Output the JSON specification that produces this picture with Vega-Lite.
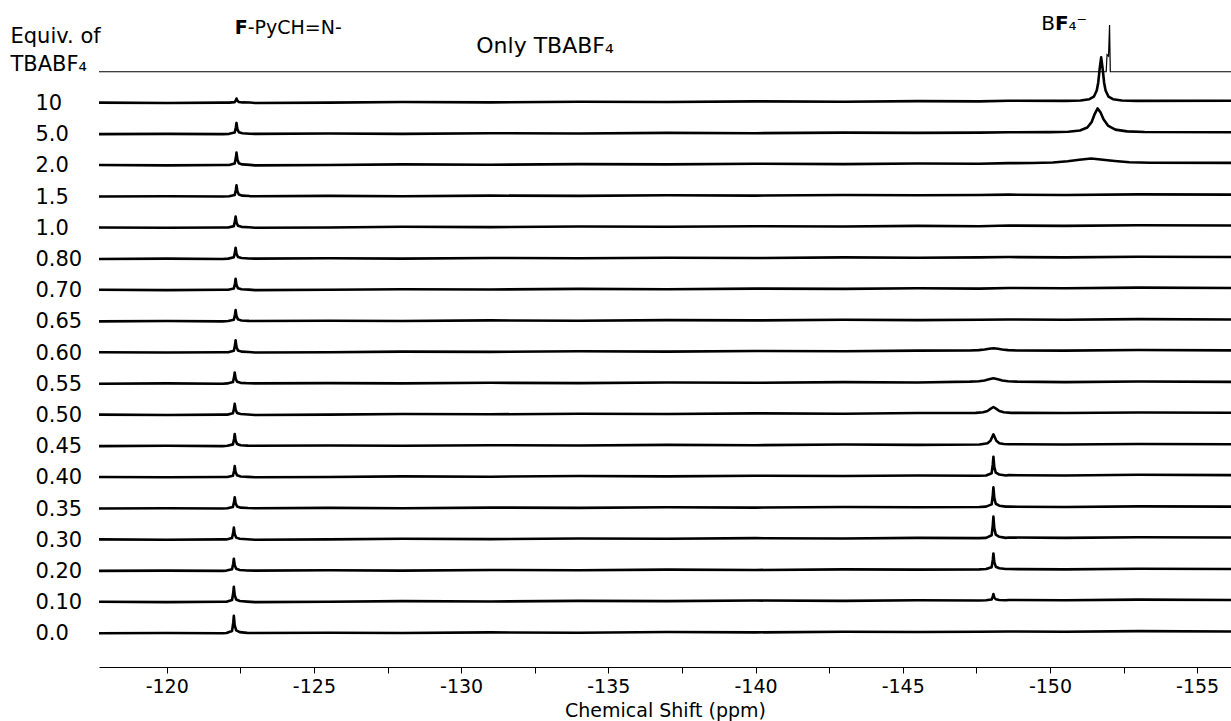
{
  "$schema": "https://vega.github.io/schema/vega-lite/v6.json",
  "autosize": {"type": "none"},
  "padding": {"left": 99, "top": 0, "right": 0, "bottom": 54},
  "width": 1132,
  "height": 667,
  "background": "white",
  "config": {"view": {"stroke": null}, "font": "DejaVu Sans"},
  "datasets": {
    "labels": [
      {"label":"0.0","row":0},{"label":"0.10","row":1},{"label":"0.20","row":2},{"label":"0.30","row":3},{"label":"0.35","row":4},{"label":"0.40","row":5},
      {"label":"0.45","row":6},{"label":"0.50","row":7},{"label":"0.55","row":8},{"label":"0.60","row":9},{"label":"0.65","row":10},{"label":"0.70","row":11},
      {"label":"0.80","row":12},{"label":"1.0","row":13},{"label":"1.5","row":14},{"label":"2.0","row":15},{"label":"5.0","row":16},{"label":"10","row":17}
    ],
    "spectra": [
      {"s":"0.0","x":-117.7,"y":0},{"s":"0.0","x":-120,"y":0.01},{"s":"0.0","x":-121.9,"y":0},
      {"s":"0.0","x":-122.03,"y":0.01},{"s":"0.0","x":-122.22,"y":0.076},{"s":"0.0","x":-122.26,"y":0.34},{"s":"0.0","x":-122.28,"y":0.56},{"s":"0.0","x":-122.31,"y":0.258},{"s":"0.0","x":-122.36,"y":0.093},{"s":"0.0","x":-122.48,"y":0.038},{"s":"0.0","x":-122.73,"y":0.015},
      {"s":"0.0","x":-123,"y":0.01},{"s":"0.0","x":-125.5,"y":0.02},{"s":"0.0","x":-128,"y":0.01},{"s":"0.0","x":-131,"y":0.03},{"s":"0.0","x":-134,"y":0.02},{"s":"0.0","x":-137,"y":0.04},{"s":"0.0","x":-140,"y":0.03},{"s":"0.0","x":-143,"y":0.05},{"s":"0.0","x":-145.5,"y":0.04},{"s":"0.0","x":-147.6,"y":0.05},{"s":"0.0","x":-148.6,"y":0.06},{"s":"0.0","x":-150.5,"y":0.05},{"s":"0.0","x":-153,"y":0.07},{"s":"0.0","x":-156.15,"y":0.06},

      {"s":"0.10","x":-117.7,"y":1.01},{"s":"0.10","x":-120,"y":1},{"s":"0.10","x":-121.9,"y":1.01},
      {"s":"0.10","x":-122.03,"y":1.01},{"s":"0.10","x":-122.22,"y":1.068},{"s":"0.10","x":-122.26,"y":1.298},{"s":"0.10","x":-122.28,"y":1.49},{"s":"0.10","x":-122.31,"y":1.226},{"s":"0.10","x":-122.36,"y":1.082},{"s":"0.10","x":-122.48,"y":1.034},{"s":"0.10","x":-122.73,"y":1.015},
      {"s":"0.10","x":-123,"y":1},{"s":"0.10","x":-125.5,"y":1.01},{"s":"0.10","x":-128,"y":1.03},{"s":"0.10","x":-131,"y":1.02},{"s":"0.10","x":-134,"y":1.04},{"s":"0.10","x":-137,"y":1.03},{"s":"0.10","x":-140,"y":1.05},{"s":"0.10","x":-143,"y":1.04},{"s":"0.10","x":-145.5,"y":1.06},{"s":"0.10","x":-147.6,"y":1.05},
      {"s":"0.10","x":-147.83,"y":1.06},{"s":"0.10","x":-148.02,"y":1.084},{"s":"0.10","x":-148.06,"y":1.18},{"s":"0.10","x":-148.08,"y":1.26},{"s":"0.10","x":-148.11,"y":1.15},{"s":"0.10","x":-148.16,"y":1.09},{"s":"0.10","x":-148.28,"y":1.07},{"s":"0.10","x":-148.5,"y":1.06},
      {"s":"0.10","x":-148.6,"y":1.07},{"s":"0.10","x":-150.5,"y":1.06},{"s":"0.10","x":-153,"y":1.08},{"s":"0.10","x":-156.15,"y":1.07},

      {"s":"0.20","x":-117.7,"y":2},{"s":"0.20","x":-120,"y":2.01},{"s":"0.20","x":-121.9,"y":2},
      {"s":"0.20","x":-122.03,"y":2.01},{"s":"0.20","x":-122.22,"y":2.056},{"s":"0.20","x":-122.26,"y":2.238},{"s":"0.20","x":-122.28,"y":2.39},{"s":"0.20","x":-122.31,"y":2.181},{"s":"0.20","x":-122.36,"y":2.067},{"s":"0.20","x":-122.48,"y":2.029},{"s":"0.20","x":-122.73,"y":2.015},
      {"s":"0.20","x":-123,"y":2.01},{"s":"0.20","x":-125.5,"y":2.02},{"s":"0.20","x":-128,"y":2.01},{"s":"0.20","x":-131,"y":2.03},{"s":"0.20","x":-134,"y":2.02},{"s":"0.20","x":-137,"y":2.04},{"s":"0.20","x":-140,"y":2.03},{"s":"0.20","x":-143,"y":2.05},{"s":"0.20","x":-145.5,"y":2.04},{"s":"0.20","x":-147.6,"y":2.05},
      {"s":"0.20","x":-147.83,"y":2.06},{"s":"0.20","x":-148.02,"y":2.12},{"s":"0.20","x":-148.06,"y":2.36},{"s":"0.20","x":-148.08,"y":2.56},{"s":"0.20","x":-148.11,"y":2.285},{"s":"0.20","x":-148.16,"y":2.135},{"s":"0.20","x":-148.28,"y":2.085},{"s":"0.20","x":-148.5,"y":2.06},
      {"s":"0.20","x":-148.6,"y":2.06},{"s":"0.20","x":-150.5,"y":2.05},{"s":"0.20","x":-153,"y":2.07},{"s":"0.20","x":-156.15,"y":2.06},

      {"s":"0.30","x":-117.7,"y":3.01},{"s":"0.30","x":-120,"y":3},{"s":"0.30","x":-121.9,"y":3.01},
      {"s":"0.30","x":-122.03,"y":3.01},{"s":"0.30","x":-122.22,"y":3.056},{"s":"0.30","x":-122.26,"y":3.238},{"s":"0.30","x":-122.28,"y":3.39},{"s":"0.30","x":-122.31,"y":3.181},{"s":"0.30","x":-122.36,"y":3.067},{"s":"0.30","x":-122.48,"y":3.029},{"s":"0.30","x":-122.73,"y":3.015},
      {"s":"0.30","x":-123,"y":3},{"s":"0.30","x":-125.5,"y":3.01},{"s":"0.30","x":-128,"y":3.03},{"s":"0.30","x":-131,"y":3.02},{"s":"0.30","x":-134,"y":3.04},{"s":"0.30","x":-137,"y":3.03},{"s":"0.30","x":-140,"y":3.05},{"s":"0.30","x":-143,"y":3.04},{"s":"0.30","x":-145.5,"y":3.06},{"s":"0.30","x":-147.6,"y":3.05},
      {"s":"0.30","x":-147.83,"y":3.06},{"s":"0.30","x":-148.02,"y":3.142},{"s":"0.30","x":-148.06,"y":3.468},{"s":"0.30","x":-148.08,"y":3.74},{"s":"0.30","x":-148.11,"y":3.366},{"s":"0.30","x":-148.16,"y":3.162},{"s":"0.30","x":-148.28,"y":3.094},{"s":"0.30","x":-148.5,"y":3.06},
      {"s":"0.30","x":-148.6,"y":3.07},{"s":"0.30","x":-150.5,"y":3.06},{"s":"0.30","x":-153,"y":3.08},{"s":"0.30","x":-156.15,"y":3.07},

      {"s":"0.35","x":-117.7,"y":4},{"s":"0.35","x":-120,"y":4.01},{"s":"0.35","x":-121.9,"y":4},
      {"s":"0.35","x":-122.06,"y":4.01},{"s":"0.35","x":-122.25,"y":4.052},{"s":"0.35","x":-122.29,"y":4.22},{"s":"0.35","x":-122.31,"y":4.36},{"s":"0.35","x":-122.34,"y":4.168},{"s":"0.35","x":-122.39,"y":4.063},{"s":"0.35","x":-122.51,"y":4.028},{"s":"0.35","x":-122.76,"y":4.015},
      {"s":"0.35","x":-123,"y":4.01},{"s":"0.35","x":-125.5,"y":4.02},{"s":"0.35","x":-128,"y":4.01},{"s":"0.35","x":-131,"y":4.03},{"s":"0.35","x":-134,"y":4.02},{"s":"0.35","x":-137,"y":4.04},{"s":"0.35","x":-140,"y":4.03},{"s":"0.35","x":-143,"y":4.05},{"s":"0.35","x":-145.5,"y":4.04},{"s":"0.35","x":-147.6,"y":4.05},
      {"s":"0.35","x":-147.83,"y":4.06},{"s":"0.35","x":-148.02,"y":4.134},{"s":"0.35","x":-148.06,"y":4.432},{"s":"0.35","x":-148.08,"y":4.68},{"s":"0.35","x":-148.11,"y":4.339},{"s":"0.35","x":-148.16,"y":4.153},{"s":"0.35","x":-148.28,"y":4.091},{"s":"0.35","x":-148.5,"y":4.06},
      {"s":"0.35","x":-148.6,"y":4.06},{"s":"0.35","x":-150.5,"y":4.05},{"s":"0.35","x":-153,"y":4.07},{"s":"0.35","x":-156.15,"y":4.06},

      {"s":"0.40","x":-117.7,"y":5.01},{"s":"0.40","x":-120,"y":5},{"s":"0.40","x":-121.9,"y":5.01},
      {"s":"0.40","x":-122.06,"y":5.01},{"s":"0.40","x":-122.25,"y":5.052},{"s":"0.40","x":-122.29,"y":5.22},{"s":"0.40","x":-122.31,"y":5.36},{"s":"0.40","x":-122.34,"y":5.168},{"s":"0.40","x":-122.39,"y":5.063},{"s":"0.40","x":-122.51,"y":5.028},{"s":"0.40","x":-122.76,"y":5.015},
      {"s":"0.40","x":-123,"y":5},{"s":"0.40","x":-125.5,"y":5.01},{"s":"0.40","x":-128,"y":5.03},{"s":"0.40","x":-131,"y":5.02},{"s":"0.40","x":-134,"y":5.04},{"s":"0.40","x":-137,"y":5.03},{"s":"0.40","x":-140,"y":5.05},{"s":"0.40","x":-143,"y":5.04},{"s":"0.40","x":-145.5,"y":5.06},{"s":"0.40","x":-147.6,"y":5.05},
      {"s":"0.40","x":-147.83,"y":5.06},{"s":"0.40","x":-148.02,"y":5.132},{"s":"0.40","x":-148.06,"y":5.42},{"s":"0.40","x":-148.08,"y":5.66},{"s":"0.40","x":-148.11,"y":5.33},{"s":"0.40","x":-148.16,"y":5.15},{"s":"0.40","x":-148.28,"y":5.09},{"s":"0.40","x":-148.5,"y":5.06},
      {"s":"0.40","x":-148.6,"y":5.07},{"s":"0.40","x":-150.5,"y":5.06},{"s":"0.40","x":-153,"y":5.08},{"s":"0.40","x":-156.15,"y":5.07},

      {"s":"0.45","x":-117.7,"y":6},{"s":"0.45","x":-120,"y":6.01},{"s":"0.45","x":-121.9,"y":6},
      {"s":"0.45","x":-122.06,"y":6.01},{"s":"0.45","x":-122.25,"y":6.056},{"s":"0.45","x":-122.29,"y":6.238},{"s":"0.45","x":-122.31,"y":6.39},{"s":"0.45","x":-122.34,"y":6.181},{"s":"0.45","x":-122.39,"y":6.067},{"s":"0.45","x":-122.51,"y":6.029},{"s":"0.45","x":-122.76,"y":6.015},
      {"s":"0.45","x":-123,"y":6.01},{"s":"0.45","x":-125.5,"y":6.02},{"s":"0.45","x":-128,"y":6.01},{"s":"0.45","x":-131,"y":6.03},{"s":"0.45","x":-134,"y":6.02},{"s":"0.45","x":-137,"y":6.04},{"s":"0.45","x":-140,"y":6.03},{"s":"0.45","x":-143,"y":6.05},{"s":"0.45","x":-145.5,"y":6.04},{"s":"0.45","x":-147.6,"y":6.05},
      {"s":"0.45","x":-147.73,"y":6.069},{"s":"0.45","x":-147.88,"y":6.094},{"s":"0.45","x":-147.98,"y":6.17},{"s":"0.45","x":-148.03,"y":6.275},{"s":"0.45","x":-148.08,"y":6.375},{"s":"0.45","x":-148.13,"y":6.275},{"s":"0.45","x":-148.18,"y":6.17},{"s":"0.45","x":-148.28,"y":6.094},{"s":"0.45","x":-148.43,"y":6.069},
      {"s":"0.45","x":-148.6,"y":6.06},{"s":"0.45","x":-150.5,"y":6.05},{"s":"0.45","x":-153,"y":6.07},{"s":"0.45","x":-156.15,"y":6.06},

      {"s":"0.50","x":-117.7,"y":7.01},{"s":"0.50","x":-120,"y":7},{"s":"0.50","x":-121.9,"y":7.01},
      {"s":"0.50","x":-122.06,"y":7.01},{"s":"0.50","x":-122.25,"y":7.052},{"s":"0.50","x":-122.29,"y":7.22},{"s":"0.50","x":-122.31,"y":7.36},{"s":"0.50","x":-122.34,"y":7.168},{"s":"0.50","x":-122.39,"y":7.063},{"s":"0.50","x":-122.51,"y":7.028},{"s":"0.50","x":-122.76,"y":7.015},
      {"s":"0.50","x":-123,"y":7},{"s":"0.50","x":-125.5,"y":7.01},{"s":"0.50","x":-128,"y":7.03},{"s":"0.50","x":-131,"y":7.02},{"s":"0.50","x":-134,"y":7.04},{"s":"0.50","x":-137,"y":7.03},{"s":"0.50","x":-140,"y":7.05},{"s":"0.50","x":-143,"y":7.04},{"s":"0.50","x":-145.5,"y":7.06},
      {"s":"0.50","x":-147.48,"y":7.067},{"s":"0.50","x":-147.73,"y":7.086},{"s":"0.50","x":-147.88,"y":7.127},{"s":"0.50","x":-147.98,"y":7.193},{"s":"0.50","x":-148.08,"y":7.255},{"s":"0.50","x":-148.18,"y":7.193},{"s":"0.50","x":-148.28,"y":7.127},{"s":"0.50","x":-148.43,"y":7.086},{"s":"0.50","x":-148.68,"y":7.067},
      {"s":"0.50","x":-150.5,"y":7.06},{"s":"0.50","x":-153,"y":7.08},{"s":"0.50","x":-156.15,"y":7.07},

      {"s":"0.55","x":-117.7,"y":8},{"s":"0.55","x":-120,"y":8.01},{"s":"0.55","x":-121.9,"y":8},
      {"s":"0.55","x":-122.06,"y":8.01},{"s":"0.55","x":-122.25,"y":8.052},{"s":"0.55","x":-122.29,"y":8.22},{"s":"0.55","x":-122.31,"y":8.36},{"s":"0.55","x":-122.34,"y":8.168},{"s":"0.55","x":-122.39,"y":8.063},{"s":"0.55","x":-122.51,"y":8.028},{"s":"0.55","x":-122.76,"y":8.015},
      {"s":"0.55","x":-123,"y":8.01},{"s":"0.55","x":-125.5,"y":8.02},{"s":"0.55","x":-128,"y":8.01},{"s":"0.55","x":-131,"y":8.03},{"s":"0.55","x":-134,"y":8.02},{"s":"0.55","x":-137,"y":8.04},{"s":"0.55","x":-140,"y":8.03},{"s":"0.55","x":-143,"y":8.05},{"s":"0.55","x":-145.5,"y":8.04},
      {"s":"0.55","x":-147.28,"y":8.066},{"s":"0.55","x":-147.58,"y":8.079},{"s":"0.55","x":-147.78,"y":8.104},{"s":"0.55","x":-147.93,"y":8.143},{"s":"0.55","x":-148.08,"y":8.175},{"s":"0.55","x":-148.23,"y":8.143},{"s":"0.55","x":-148.38,"y":8.104},{"s":"0.55","x":-148.58,"y":8.079},{"s":"0.55","x":-148.88,"y":8.066},
      {"s":"0.55","x":-150.5,"y":8.05},{"s":"0.55","x":-153,"y":8.07},{"s":"0.55","x":-156.15,"y":8.06},

      {"s":"0.60","x":-117.7,"y":9.01},{"s":"0.60","x":-120,"y":9},{"s":"0.60","x":-121.9,"y":9.01},
      {"s":"0.60","x":-122.09,"y":9.01},{"s":"0.60","x":-122.28,"y":9.056},{"s":"0.60","x":-122.32,"y":9.238},{"s":"0.60","x":-122.34,"y":9.39},{"s":"0.60","x":-122.37,"y":9.181},{"s":"0.60","x":-122.42,"y":9.067},{"s":"0.60","x":-122.54,"y":9.029},{"s":"0.60","x":-122.79,"y":9.015},
      {"s":"0.60","x":-123,"y":9},{"s":"0.60","x":-125.5,"y":9.01},{"s":"0.60","x":-128,"y":9.03},{"s":"0.60","x":-131,"y":9.02},{"s":"0.60","x":-134,"y":9.04},{"s":"0.60","x":-137,"y":9.03},{"s":"0.60","x":-140,"y":9.05},{"s":"0.60","x":-143,"y":9.04},{"s":"0.60","x":-145.5,"y":9.06},
      {"s":"0.60","x":-147.28,"y":9.065},{"s":"0.60","x":-147.58,"y":9.077},{"s":"0.60","x":-147.78,"y":9.095},{"s":"0.60","x":-147.93,"y":9.119},{"s":"0.60","x":-148.08,"y":9.135},{"s":"0.60","x":-148.23,"y":9.119},{"s":"0.60","x":-148.38,"y":9.095},{"s":"0.60","x":-148.58,"y":9.077},{"s":"0.60","x":-148.88,"y":9.065},
      {"s":"0.60","x":-150.5,"y":9.06},{"s":"0.60","x":-153,"y":9.08},{"s":"0.60","x":-156.15,"y":9.07},

      {"s":"0.65","x":-117.7,"y":10},{"s":"0.65","x":-120,"y":10.01},{"s":"0.65","x":-121.9,"y":10},
      {"s":"0.65","x":-122.09,"y":10.01},{"s":"0.65","x":-122.28,"y":10.052},{"s":"0.65","x":-122.32,"y":10.22},{"s":"0.65","x":-122.34,"y":10.36},{"s":"0.65","x":-122.37,"y":10.168},{"s":"0.65","x":-122.42,"y":10.063},{"s":"0.65","x":-122.54,"y":10.028},{"s":"0.65","x":-122.79,"y":10.015},
      {"s":"0.65","x":-123,"y":10.01},{"s":"0.65","x":-125.5,"y":10.02},{"s":"0.65","x":-128,"y":10.01},{"s":"0.65","x":-131,"y":10.03},{"s":"0.65","x":-134,"y":10.02},{"s":"0.65","x":-137,"y":10.04},{"s":"0.65","x":-140,"y":10.03},{"s":"0.65","x":-143,"y":10.05},{"s":"0.65","x":-145.5,"y":10.04},{"s":"0.65","x":-147.6,"y":10.05},{"s":"0.65","x":-148.6,"y":10.06},{"s":"0.65","x":-150.5,"y":10.05},{"s":"0.65","x":-153,"y":10.07},{"s":"0.65","x":-156.15,"y":10.06},

      {"s":"0.70","x":-117.7,"y":11.01},{"s":"0.70","x":-120,"y":11},{"s":"0.70","x":-121.9,"y":11.01},
      {"s":"0.70","x":-122.09,"y":11.01},{"s":"0.70","x":-122.28,"y":11.052},{"s":"0.70","x":-122.32,"y":11.22},{"s":"0.70","x":-122.34,"y":11.36},{"s":"0.70","x":-122.37,"y":11.168},{"s":"0.70","x":-122.42,"y":11.063},{"s":"0.70","x":-122.54,"y":11.028},{"s":"0.70","x":-122.79,"y":11.015},
      {"s":"0.70","x":-123,"y":11},{"s":"0.70","x":-125.5,"y":11.01},{"s":"0.70","x":-128,"y":11.03},{"s":"0.70","x":-131,"y":11.02},{"s":"0.70","x":-134,"y":11.04},{"s":"0.70","x":-137,"y":11.03},{"s":"0.70","x":-140,"y":11.05},{"s":"0.70","x":-143,"y":11.04},{"s":"0.70","x":-145.5,"y":11.06},{"s":"0.70","x":-147.6,"y":11.05},{"s":"0.70","x":-148.6,"y":11.07},{"s":"0.70","x":-150.5,"y":11.06},{"s":"0.70","x":-153,"y":11.08},{"s":"0.70","x":-156.15,"y":11.07},

      {"s":"0.80","x":-117.7,"y":12},{"s":"0.80","x":-120,"y":12.01},{"s":"0.80","x":-121.9,"y":12},
      {"s":"0.80","x":-122.09,"y":12.01},{"s":"0.80","x":-122.28,"y":12.052},{"s":"0.80","x":-122.32,"y":12.22},{"s":"0.80","x":-122.34,"y":12.36},{"s":"0.80","x":-122.37,"y":12.168},{"s":"0.80","x":-122.42,"y":12.063},{"s":"0.80","x":-122.54,"y":12.028},{"s":"0.80","x":-122.79,"y":12.015},
      {"s":"0.80","x":-123,"y":12.01},{"s":"0.80","x":-125.5,"y":12.02},{"s":"0.80","x":-128,"y":12.01},{"s":"0.80","x":-131,"y":12.03},{"s":"0.80","x":-134,"y":12.02},{"s":"0.80","x":-137,"y":12.04},{"s":"0.80","x":-140,"y":12.03},{"s":"0.80","x":-143,"y":12.05},{"s":"0.80","x":-145.5,"y":12.04},{"s":"0.80","x":-147.6,"y":12.05},{"s":"0.80","x":-148.6,"y":12.06},{"s":"0.80","x":-150.5,"y":12.05},{"s":"0.80","x":-153,"y":12.07},{"s":"0.80","x":-156.15,"y":12.06},

      {"s":"1.0","x":-117.7,"y":13.01},{"s":"1.0","x":-120,"y":13},{"s":"1.0","x":-121.9,"y":13.01},
      {"s":"1.0","x":-122.09,"y":13.01},{"s":"1.0","x":-122.28,"y":13.052},{"s":"1.0","x":-122.32,"y":13.22},{"s":"1.0","x":-122.34,"y":13.36},{"s":"1.0","x":-122.37,"y":13.168},{"s":"1.0","x":-122.42,"y":13.063},{"s":"1.0","x":-122.54,"y":13.028},{"s":"1.0","x":-122.79,"y":13.015},
      {"s":"1.0","x":-123,"y":13},{"s":"1.0","x":-125.5,"y":13.01},{"s":"1.0","x":-128,"y":13.03},{"s":"1.0","x":-131,"y":13.02},{"s":"1.0","x":-134,"y":13.04},{"s":"1.0","x":-137,"y":13.03},{"s":"1.0","x":-140,"y":13.05},{"s":"1.0","x":-143,"y":13.04},{"s":"1.0","x":-145.5,"y":13.06},{"s":"1.0","x":-147.6,"y":13.05},{"s":"1.0","x":-148.6,"y":13.07},{"s":"1.0","x":-150.5,"y":13.06},{"s":"1.0","x":-153,"y":13.08},{"s":"1.0","x":-156.15,"y":13.07},

      {"s":"1.5","x":-117.7,"y":14},{"s":"1.5","x":-120,"y":14.01},{"s":"1.5","x":-121.9,"y":14},
      {"s":"1.5","x":-122.12,"y":14.01},{"s":"1.5","x":-122.31,"y":14.052},{"s":"1.5","x":-122.35,"y":14.22},{"s":"1.5","x":-122.37,"y":14.36},{"s":"1.5","x":-122.4,"y":14.168},{"s":"1.5","x":-122.45,"y":14.063},{"s":"1.5","x":-122.57,"y":14.028},{"s":"1.5","x":-122.82,"y":14.015},
      {"s":"1.5","x":-123,"y":14.01},{"s":"1.5","x":-125.5,"y":14.02},{"s":"1.5","x":-128,"y":14.01},{"s":"1.5","x":-131,"y":14.03},{"s":"1.5","x":-134,"y":14.02},{"s":"1.5","x":-137,"y":14.04},{"s":"1.5","x":-140,"y":14.03},{"s":"1.5","x":-143,"y":14.05},{"s":"1.5","x":-145.5,"y":14.04},{"s":"1.5","x":-147.6,"y":14.05},{"s":"1.5","x":-148.6,"y":14.06},{"s":"1.5","x":-150.5,"y":14.05},{"s":"1.5","x":-153,"y":14.07},{"s":"1.5","x":-156.15,"y":14.06},

      {"s":"2.0","x":-117.7,"y":15.01},{"s":"2.0","x":-120,"y":15},{"s":"2.0","x":-121.9,"y":15.01},
      {"s":"2.0","x":-122.12,"y":15.01},{"s":"2.0","x":-122.31,"y":15.058},{"s":"2.0","x":-122.35,"y":15.25},{"s":"2.0","x":-122.37,"y":15.41},{"s":"2.0","x":-122.4,"y":15.19},{"s":"2.0","x":-122.45,"y":15.07},{"s":"2.0","x":-122.57,"y":15.03},{"s":"2.0","x":-122.82,"y":15.015},
      {"s":"2.0","x":-123,"y":15},{"s":"2.0","x":-125.5,"y":15.01},{"s":"2.0","x":-128,"y":15.03},{"s":"2.0","x":-131,"y":15.02},{"s":"2.0","x":-134,"y":15.04},{"s":"2.0","x":-137,"y":15.03},{"s":"2.0","x":-140,"y":15.05},{"s":"2.0","x":-143,"y":15.04},{"s":"2.0","x":-145.5,"y":15.06},{"s":"2.0","x":-147.6,"y":15.05},{"s":"2.0","x":-148.6,"y":15.07},
      {"s":"2.0","x":-149.4,"y":15.075},{"s":"2.0","x":-150.1,"y":15.09},{"s":"2.0","x":-150.6,"y":15.13},{"s":"2.0","x":-151.0,"y":15.18},{"s":"2.0","x":-151.4,"y":15.22},{"s":"2.0","x":-151.8,"y":15.18},{"s":"2.0","x":-152.2,"y":15.14},{"s":"2.0","x":-152.7,"y":15.1},{"s":"2.0","x":-153.4,"y":15.085},
      {"s":"2.0","x":-156.15,"y":15.08},

      {"s":"5.0","x":-117.7,"y":16},{"s":"5.0","x":-120,"y":16.01},{"s":"5.0","x":-121.9,"y":16},
      {"s":"5.0","x":-122.12,"y":16.01},{"s":"5.0","x":-122.31,"y":16.052},{"s":"5.0","x":-122.35,"y":16.22},{"s":"5.0","x":-122.37,"y":16.36},{"s":"5.0","x":-122.4,"y":16.168},{"s":"5.0","x":-122.45,"y":16.063},{"s":"5.0","x":-122.57,"y":16.028},{"s":"5.0","x":-122.82,"y":16.015},
      {"s":"5.0","x":-123,"y":16.01},{"s":"5.0","x":-125.5,"y":16.02},{"s":"5.0","x":-128,"y":16.01},{"s":"5.0","x":-131,"y":16.03},{"s":"5.0","x":-134,"y":16.02},{"s":"5.0","x":-137,"y":16.04},{"s":"5.0","x":-140,"y":16.03},{"s":"5.0","x":-143,"y":16.05},{"s":"5.0","x":-145.5,"y":16.04},{"s":"5.0","x":-147.6,"y":16.05},{"s":"5.0","x":-148.6,"y":16.06},
      {"s":"5.0","x":-150.02,"y":16.065},{"s":"5.0","x":-150.62,"y":16.079},{"s":"5.0","x":-151.02,"y":16.119},{"s":"5.0","x":-151.27,"y":16.215},{"s":"5.0","x":-151.42,"y":16.395},{"s":"5.0","x":-151.52,"y":16.645},{"s":"5.0","x":-151.62,"y":16.825},{"s":"5.0","x":-151.72,"y":16.695},{"s":"5.0","x":-151.82,"y":16.475},{"s":"5.0","x":-151.97,"y":16.275},{"s":"5.0","x":-152.22,"y":16.145},{"s":"5.0","x":-152.62,"y":16.09},{"s":"5.0","x":-153.22,"y":16.069},
      {"s":"5.0","x":-156.15,"y":16.06},

      {"s":"10","x":-117.7,"y":17.01},{"s":"10","x":-120,"y":17},{"s":"10","x":-121.9,"y":17.01},
      {"s":"10","x":-122.12,"y":17.01},{"s":"10","x":-122.31,"y":17.026},{"s":"10","x":-122.35,"y":17.088},{"s":"10","x":-122.37,"y":17.14},{"s":"10","x":-122.4,"y":17.069},{"s":"10","x":-122.45,"y":17.03},{"s":"10","x":-122.57,"y":17.017},{"s":"10","x":-122.82,"y":17.015},
      {"s":"10","x":-123,"y":17},{"s":"10","x":-125.5,"y":17.01},{"s":"10","x":-128,"y":17.03},{"s":"10","x":-131,"y":17.02},{"s":"10","x":-134,"y":17.04},{"s":"10","x":-137,"y":17.03},{"s":"10","x":-140,"y":17.05},{"s":"10","x":-143,"y":17.04},{"s":"10","x":-145.5,"y":17.06},{"s":"10","x":-147.6,"y":17.05},{"s":"10","x":-148.6,"y":17.07},
      {"s":"10","x":-150.54,"y":17.067},{"s":"10","x":-151.04,"y":17.08},{"s":"10","x":-151.34,"y":17.12},{"s":"10","x":-151.49,"y":17.2},{"s":"10","x":-151.59,"y":17.4},{"s":"10","x":-151.64,"y":17.65},{"s":"10","x":-151.69,"y":18.1},{"s":"10","x":-151.74,"y":18.46},{"s":"10","x":-151.79,"y":18.1},{"s":"10","x":-151.84,"y":17.65},{"s":"10","x":-151.89,"y":17.4},{"s":"10","x":-151.99,"y":17.2},{"s":"10","x":-152.14,"y":17.12},{"s":"10","x":-152.44,"y":17.08},{"s":"10","x":-152.94,"y":17.067},
      {"s":"10","x":-156.15,"y":17.07},

      {"s":"Only","x":-117.7,"y":18},{"s":"Only","x":-151.91,"y":18},{"s":"Only","x":-151.94,"y":18.55},{"s":"Only","x":-151.99,"y":18.5},{"s":"Only","x":-152.025,"y":19.5},{"s":"Only","x":-152.05,"y":18},{"s":"Only","x":-156.15,"y":18}
    ]
  },
  "layer": [
    {
      "data": {"name": "spectra"},
      "transform": [{"filter": "datum.s != 'Only'"}],
      "mark": {"type": "line", "color": "#000000", "strokeWidth": 2.6, "strokeJoin": "round", "clip": true},
      "encoding": {
        "x": {
          "field": "x", "type": "quantitative",
          "scale": {"domain": [-156.15, -117.7], "reverse": true, "nice": false, "zero": false},
          "axis": {
            "values": [-120, -122.5, -125, -127.5, -130, -132.5, -135, -137.5, -140, -142.5, -145, -147.5, -150, -152.5, -155],
            "labelExpr": "datum.value % 5 == 0 ? '' + datum.value : ''",
            "grid": false, "domain": true, "domainColor": "#000000", "domainWidth": 1, "ticks": true, "tickColor": "#000000", "tickSize": 6, "tickWidth": 1,
            "labelFontSize": 19, "labelColor": "#000000", "labelPadding": 4, "labelOverlap": false, "labelFlush": false,
            "title": "Chemical Shift (ppm)", "titleFontSize": 19, "titleFontWeight": "normal", "titleColor": "#000000", "titlePadding": 5
          }
        },
        "y": {
          "field": "y", "type": "quantitative",
          "scale": {"domain": [-1.08, 20.3], "nice": false, "zero": false},
          "axis": {
            "values": [0],
            "labels": false, "domain": false, "ticks": false, "grid": false,
            "title": ["Equiv. of", "TBABF₄"], "titleAngle": 0, "titleAlign": "left", "titleBaseline": "alphabetic",
            "titleX": -89, "titleY": 42, "titleFontSize": 21, "titleFontWeight": "normal", "titleColor": "#000000", "titleLineHeight": 28
          }
        },
        "detail": {"field": "s", "type": "nominal"}
      }
    },
    {
      "data": {"name": "spectra"},
      "transform": [{"filter": "datum.s == 'Only'"}],
      "mark": {"type": "line", "color": "#000000", "strokeWidth": 1.2, "clip": true},
      "encoding": {
        "x": {"field": "x", "type": "quantitative"},
        "y": {"field": "y", "type": "quantitative"}
      }
    },
    {
      "data": {"name": "labels"},
      "mark": {"type": "text", "fontSize": 21, "align": "left", "baseline": "middle", "dy": 1, "color": "#000000", "clip": false},
      "encoding": {
        "x": {"datum": -115.54, "type": "quantitative"},
        "y": {"field": "row", "type": "quantitative"},
        "text": {"field": "label", "type": "nominal"}
      }
    },
    {
      "data": {"values": [{}]},
      "mark": {"type": "text", "text": "Only TBABF₄", "fontSize": 22, "align": "center", "baseline": "alphabetic", "color": "#000000"},
      "encoding": {"x": {"datum": -132.85, "type": "quantitative"}, "y": {"datum": 18.59, "type": "quantitative"}}
    },
    {
      "data": {"values": [{}]},
      "mark": {"type": "text", "text": "F", "fontSize": 19, "fontWeight": "bold", "align": "right", "baseline": "alphabetic", "color": "#000000"},
      "encoding": {"x": {"datum": -122.75, "type": "quantitative"}, "y": {"datum": 19.21, "type": "quantitative"}}
    },
    {
      "data": {"values": [{}]},
      "mark": {"type": "text", "text": "-PyCH=N-", "fontSize": 19, "align": "left", "baseline": "alphabetic", "color": "#000000"},
      "encoding": {"x": {"datum": -122.75, "type": "quantitative"}, "y": {"datum": 19.21, "type": "quantitative"}}
    },
    {
      "data": {"values": [{}]},
      "mark": {"type": "text", "text": "B", "fontSize": 20, "align": "right", "baseline": "alphabetic", "color": "#000000"},
      "encoding": {"x": {"datum": -150.17, "type": "quantitative"}, "y": {"datum": 19.34, "type": "quantitative"}}
    },
    {
      "data": {"values": [{}]},
      "mark": {"type": "text", "text": "F", "fontSize": 20, "fontWeight": "bold", "align": "left", "baseline": "alphabetic", "color": "#000000"},
      "encoding": {"x": {"datum": -150.17, "type": "quantitative"}, "y": {"datum": 19.34, "type": "quantitative"}}
    },
    {
      "data": {"values": [{}]},
      "mark": {"type": "text", "text": "₄⁻", "fontSize": 20, "align": "left", "baseline": "alphabetic", "dx": 13.5, "color": "#000000"},
      "encoding": {"x": {"datum": -150.17, "type": "quantitative"}, "y": {"datum": 19.34, "type": "quantitative"}}
    }
  ]
}
